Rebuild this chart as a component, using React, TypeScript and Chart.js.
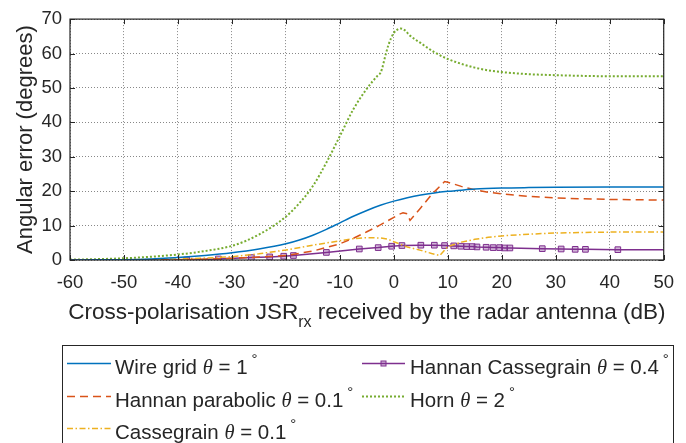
import React, { useEffect, useRef } from 'react';
import { Chart, registerables } from 'chart.js';
Chart.register(...registerables);

// ---------- data ----------
const xTickValues = [-60, -50, -40, -30, -20, -10, 0, 10, 20, 30, 40, 50];
const yTickValues = [0, 10, 20, 30, 40, 50, 60, 70];

const wireX = [-60, -55, -50, -45, -40, -35, -30, -25, -20, -17.5, -15, -12.5, -10, -7.5, -5, -2.5, 0, 2.5, 5, 7.5, 10, 12.5, 15, 20, 25, 30, 40, 50];
const wireY = [0.02, 0.05, 0.1, 0.3, 0.7, 1.3, 2.1, 3.2, 4.7, 5.8, 7.2, 8.9, 10.8, 12.7, 14.4, 15.9, 17.1, 18.1, 18.9, 19.5, 19.95, 20.3, 20.6, 20.9, 21.05, 21.15, 21.2, 21.2];

const hannanParX = [-60, -50, -40, -35, -30, -25, -20, -15, -10, -7.5, -5, -2.5, 0, 1, 1.7, 2.5, 3, 5, 7, 9.4, 10, 12.5, 15, 17.5, 20, 25, 30, 35, 40, 45, 50];
const hannanParY = [0, 0.02, 0.1, 0.25, 0.5, 0.85, 1.3, 2.6, 4.7, 6.3, 8.2, 10.2, 12.4, 13.3, 13.7, 13.4, 11.5, 15.2, 19.0, 22.8, 22.6, 21.4, 20.4, 19.7, 19.2, 18.5, 18.0, 17.8, 17.6, 17.5, 17.4];

const cassX = [-60, -50, -40, -35, -30, -25, -20, -15, -10, -7.5, -5, -2.5, -1, 0, 2.5, 5, 7, 8.5, 10, 12.5, 15, 17.5, 20, 25, 30, 35, 40, 50];
const cassY = [0, 0.05, 0.3, 0.55, 0.95, 1.8, 2.9, 4.3, 5.6, 6.2, 6.5, 6.4, 6.0, 5.3, 3.8, 2.8, 1.9, 1.3, 3.9, 5.2, 6.0, 6.6, 7.0, 7.5, 7.85, 8.0, 8.1, 8.1];

const hannanCassX = [-60, -38.4, -32.5, -26.4, -23.0, -20.4, -18.6, -12.5, -6.4, -2.9, -0.4, 1.5, 5.0, 7.5, 9.4, 11.1, 12.4, 13.5, 14.5, 15.4, 17.1, 18.4, 19.6, 20.5, 21.5, 27.5, 31.0, 33.6, 35.5, 41.5, 50];
const hannanCassY = [0, 0, 0.3, 0.7, 0.9, 1.1, 1.3, 2.2, 3.2, 3.6, 4.0, 4.2, 4.3, 4.3, 4.2, 4.1, 4.0, 3.9, 3.9, 3.8, 3.7, 3.6, 3.6, 3.5, 3.5, 3.3, 3.2, 3.1, 3.1, 3.0, 3.0];
const hannanCassMarked = [false, true, true, true, true, true, true, true, true, true, true, true, true, true, true, true, true, true, true, true, true, true, true, true, true, true, true, true, true, true, false];

const hornX = [-60, -55, -50, -45, -40, -35, -30, -27.5, -25, -22.5, -20, -17.5, -15, -12.5, -10, -7.5, -5, -3, -2.4, -1.5, -1, -0.5, 0, 0.5, 1.2, 2, 3, 5, 7.5, 10, 12.5, 15, 17.5, 20, 25, 30, 35, 40, 45, 50];
const hornY = [0.1, 0.25, 0.5, 0.95, 1.6, 2.6, 4.1, 5.5, 7.4, 9.7, 12.6, 16.5, 21.5, 28.3, 36.0, 43.8, 49.8, 53.6, 54.6, 59.8, 62.5, 64.5, 66.0, 66.8, 67.3, 66.8, 65.2, 63.0, 60.4, 58.4, 57.0, 55.9, 55.1, 54.6, 54.0, 53.7, 53.5, 53.4, 53.4, 53.4];

const legendNames = ['Wire grid', 'Hannan parabolic', 'Cassegrain', 'Hannan Cassegrain', 'Horn'];
const legendThetas = ['1', '0.1', '0.1', '0.4', '2'];

const xTitleParts = ['Cross-polarisation JSR', 'rx', ' received by the radar antenna (dB)'];
const yTitle = 'Angular error (degrees)';

// ---------- styles ----------
const FONT = '"Liberation Sans", Arial, Helvetica, sans-serif';
const SERIF = '"Liberation Serif", "DejaVu Serif", serif';
const INK = '#262626';
const C_BLUE = '#0072BD';
const C_ORANGE = '#D95319';
const C_YELLOW = '#EDB120';
const C_PURPLE = '#7E2F8E';
const C_GREEN = '#77AC30';

const zip = (xs: number[], ys: number[]) => xs.map((x, i) => ({ x, y: ys[i] }));

type Part = { t: string; font: string; dy?: number; dx?: number };
function drawRich(ctx: CanvasRenderingContext2D, x: number, y: number, parts: Part[]) {
  let cx = x;
  for (const p of parts) {
    ctx.font = p.font;
    cx += p.dx || 0;
    ctx.fillText(p.t, cx, y + (p.dy || 0));
    cx += ctx.measureText(p.t).width;
  }
}
function richWidth(ctx: CanvasRenderingContext2D, parts: Part[]) {
  let w = 0;
  for (const p of parts) {
    ctx.font = p.font;
    w += (p.dx || 0) + ctx.measureText(p.t).width;
  }
  return w;
}

const LEG = 20.5;
function legendParts(name: string, theta: string): Part[] {
  return [
    { t: name + ' ', font: `${LEG}px ${FONT}` },
    { t: 'θ', font: `italic ${LEG}px ${SERIF}` },
    { t: ' = ' + theta, font: `${LEG}px ${FONT}` },
    { t: '°', font: `15px ${FONT}`, dx: 4, dy: -10.5 },
  ];
}

const decorPlugin = {
  id: 'decor',
  afterDatasetsDraw(chart: any) {
    const ctx: CanvasRenderingContext2D = chart.ctx;
    const { left, right, top, bottom } = chart.chartArea;
    const xs = chart.scales.x;
    const ys = chart.scales.y;
    ctx.save();
    // axes box
    ctx.setLineDash([]);
    ctx.strokeStyle = INK;
    ctx.lineWidth = 1.2;
    ctx.strokeRect(left, top, right - left, bottom - top);
    // inward ticks
    ctx.lineWidth = 1;
    const tl = 5;
    ctx.beginPath();
    for (const v of xTickValues) {
      const px = Math.round(xs.getPixelForValue(v)) + 0.5;
      ctx.moveTo(px, bottom); ctx.lineTo(px, bottom - tl);
      ctx.moveTo(px, top); ctx.lineTo(px, top + tl);
    }
    for (const v of yTickValues) {
      const py = Math.round(ys.getPixelForValue(v)) + 0.5;
      ctx.moveTo(left, py); ctx.lineTo(left + tl, py);
      ctx.moveTo(right, py); ctx.lineTo(right - tl, py);
    }
    ctx.stroke();

    // axis titles
    ctx.fillStyle = INK;
    ctx.textBaseline = 'alphabetic';
    ctx.textAlign = 'left';
    const xt: Part[] = [
      { t: xTitleParts[0], font: `22.5px ${FONT}` },
      { t: xTitleParts[1], font: `16px ${FONT}`, dy: 8 },
      { t: xTitleParts[2], font: `22.5px ${FONT}` },
    ];
    const w = richWidth(ctx, xt);
    drawRich(ctx, (left + right) / 2 - w / 2, 319, xt);

    ctx.save();
    ctx.translate(32, (top + bottom) / 2);
    ctx.rotate(-Math.PI / 2);
    ctx.font = `22px ${FONT}`;
    ctx.textAlign = 'center';
    ctx.fillText(yTitle, 0, 0);
    ctx.restore();

    // legend
    ctx.fillStyle = '#ffffff';
    ctx.fillRect(62.5, 345, 611, 120);
    ctx.strokeStyle = INK;
    ctx.lineWidth = 1;
    ctx.setLineDash([]);
    ctx.strokeRect(62.5, 345.5, 611, 120);

    const ds = chart.data.datasets;
    const entries = [
      { ds: ds[0], col: 0, row: 0 },
      { ds: ds[1], col: 0, row: 1 },
      { ds: ds[2], col: 0, row: 2 },
      { ds: ds[3], col: 1, row: 0 },
      { ds: ds[4], col: 1, row: 1 },
    ];
    const baselines = [374, 407, 439];
    const cols = [{ x1: 67, x2: 111, tx: 115 }, { x1: 362, x2: 405, tx: 410 }];
    entries.forEach((e, i) => {
      const c = cols[e.col];
      const by = baselines[e.row];
      const ly = by - 10.5;
      ctx.save();
      ctx.strokeStyle = e.ds.borderColor;
      ctx.lineWidth = e.ds.borderWidth;
      ctx.setLineDash(e.ds.borderDash || []);
      ctx.beginPath();
      ctx.moveTo(c.x1, ly);
      ctx.lineTo(c.x2, ly);
      ctx.stroke();
      if (e.ds.legendMarker) {
        ctx.setLineDash([]);
        ctx.fillStyle = 'rgba(126,47,142,0.35)';
        ctx.lineWidth = 1;
        const mx = (c.x1 + c.x2) / 2;
        ctx.fillRect(mx - 2.5, ly - 2.5, 5, 5);
        ctx.strokeRect(mx - 2.5, ly - 2.5, 5, 5);
      }
      ctx.restore();
      ctx.fillStyle = INK;
      drawRich(ctx, c.tx, by, legendParts(legendNames[i], legendThetas[i]));
    });
    ctx.restore();
  },
};

export default function App() {
  const ref = useRef<HTMLCanvasElement | null>(null);
  useEffect(() => {
    if (!ref.current) return;
    const chart = new Chart(ref.current, {
      type: 'line',
      data: {
        datasets: [
          { label: 'Wire grid', data: zip(wireX, wireY), borderColor: C_BLUE, borderWidth: 1.5, pointRadius: 0, cubicInterpolationMode: 'monotone', fill: false } as any,
          { label: 'Hannan parabolic', data: zip(hannanParX, hannanParY), borderColor: C_ORANGE, borderWidth: 1.5, borderDash: [8, 5], pointRadius: 0, tension: 0, fill: false } as any,
          { label: 'Cassegrain', data: zip(cassX, cassY), borderColor: C_YELLOW, borderWidth: 1.5, borderDash: [6, 2.5, 1.5, 2.5], pointRadius: 0, tension: 0, fill: false } as any,
          {
            label: 'Hannan Cassegrain', data: zip(hannanCassX, hannanCassY), borderColor: C_PURPLE, borderWidth: 1.5, tension: 0, fill: false,
            pointStyle: 'rect', pointRadius: hannanCassMarked.map((m) => (m ? 4 : 0)), pointBorderWidth: 1,
            pointBackgroundColor: 'rgba(126,47,142,0.35)', pointBorderColor: C_PURPLE, legendMarker: true,
          } as any,
          { label: 'Horn', data: zip(hornX, hornY), borderColor: C_GREEN, borderWidth: 2, borderDash: [2, 2], pointRadius: 0, cubicInterpolationMode: 'monotone', fill: false } as any,
        ],
      },
      options: {
        animation: false,
        responsive: false,
        devicePixelRatio: 1,
        layout: { padding: { left: 0, top: 14, right: 14, bottom: 0 } },
        plugins: { legend: { display: false }, tooltip: { enabled: false } },
        scales: {
          x: {
            type: 'linear', min: -60, max: 50,
            afterBuildTicks: (s: any) => { s.ticks = xTickValues.map((v) => ({ value: v })); },
            afterFit: (s: any) => { s.height = 183; },
            ticks: { font: { family: FONT, size: 18.5 }, color: INK, padding: 12, maxRotation: 0, autoSkip: false, callback: (v: any) => String(v) },
            grid: { color: 'rgba(38,38,38,0.55)', lineWidth: 1, drawTicks: false },
            border: { display: false, dash: [1, 2] },
          },
          y: {
            type: 'linear', min: 0, max: 70,
            afterBuildTicks: (s: any) => { s.ticks = yTickValues.map((v) => ({ value: v })); },
            afterFit: (s: any) => { s.width = 70; },
            ticks: { font: { family: FONT, size: 18.5 }, color: INK, padding: 8, autoSkip: false, callback: (v: any) => String(v) },
            grid: { color: 'rgba(38,38,38,0.55)', lineWidth: 1, drawTicks: false },
            border: { display: false, dash: [1, 2] },
          },
        },
      } as any,
      plugins: [decorPlugin],
    });
    return () => chart.destroy();
  }, []);
  return (
    <div style={{ position: 'absolute', left: 0, top: 0, width: 686, height: 443, background: '#fff' }}>
      <canvas ref={ref} width={686} height={443} />
    </div>
  );
}
